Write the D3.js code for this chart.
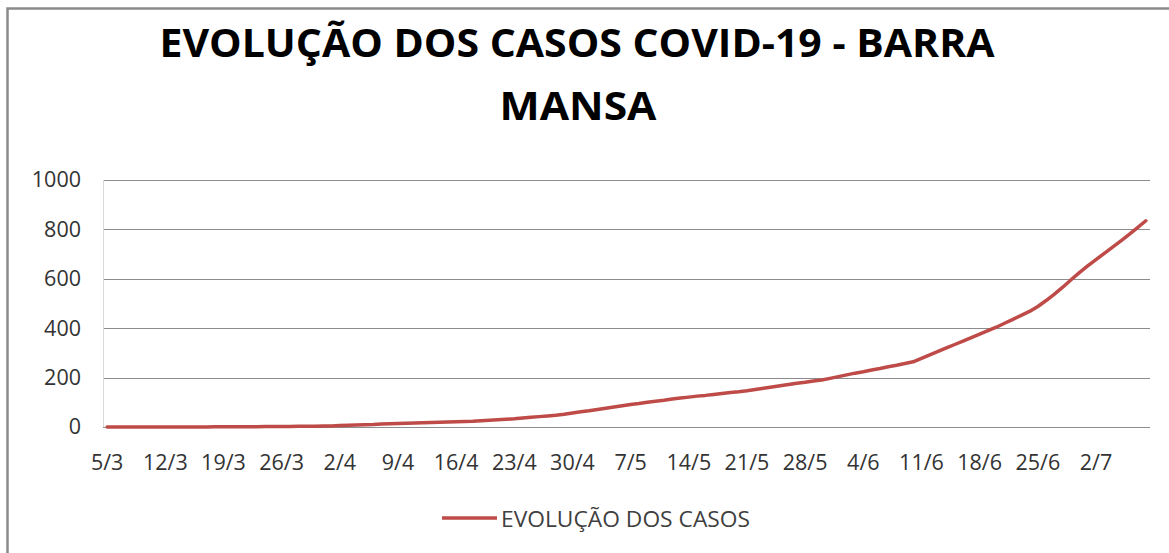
<!DOCTYPE html>
<html>
<head>
<meta charset="utf-8">
<script src="https://cdn.jsdelivr.net/npm/d3@7"></script>
<style>
  body { margin: 0; background: #fff; }
  svg { display: block; }
</style>
</head>
<body>
<div id="chart"></div>
<script>
// Data: cumulative cases per day, from 5/3 to 8/7
const startDate = new Date(2020, 2, 5);
const marchCases = [0, 0, 0, 0, 0, 0, 0, 0, 0, 0, 0, 0, 0, 1, 1, 1, 1, 1, 1, 2, 2, 2, 2, 3, 3, 3, 4];
const aprilCases = [4, 6, 7, 8, 9, 10, 12, 13, 14, 15, 16, 17, 18, 19, 20, 21, 22, 23, 25, 27,
  29, 31, 33, 36, 39, 42, 45, 48, 52, 57];
const mayCases = [62, 66, 71, 76, 81, 86, 91, 95, 100, 104, 108, 113, 117, 121, 125, 128, 132, 136, 140, 143,
  147, 152, 157, 162, 167, 172, 177, 181, 186, 190, 197];
const juneCases = [204, 211, 218, 224, 231, 237, 244, 250, 257, 264, 278, 292, 306, 320, 334, 348, 362, 376, 390, 404,
  420, 436, 452, 468, 488, 512, 538, 566, 596, 625];
const julyCases = [652, 678, 703, 728, 754, 780, 807, 835];

const xTickLabels = ["5/3", "12/3", "19/3", "26/3", "2/4", "9/4", "16/4", "23/4", "30/4", "7/5", "14/5",
  "21/5", "28/5", "4/6", "11/6", "18/6", "25/6", "2/7"];
const yTicks = [0, 200, 400, 600, 800, 1000];
const titleLines = ["EVOLUÇÃO DOS CASOS COVID-19 - BARRA", "MANSA"];
const seriesName = "EVOLUÇÃO DOS CASOS";

const values = [...marchCases, ...aprilCases, ...mayCases, ...juneCases, ...julyCases];
const fmt = d3.timeFormat("%-d/%-m");
const dates = d3.timeDays(startDate, d3.timeDay.offset(startDate, values.length)).map(fmt);
const data = dates.map((d, i) => ({ date: d, value: values[i] }));

const W = 1169, H = 553;
const plot = { left: 103, right: 1150, top: 180, bottom: 427 };
const lineColor = "#BE4B48";
const font = "'Open Sans', 'DejaVu Sans', sans-serif";

const svg = d3.select("#chart").append("svg")
  .attr("width", W)
  .attr("height", H);

svg.append("rect")
  .attr("width", W).attr("height", H)
  .attr("fill", "#fff");

// chart border (runs off the right/bottom like the screenshot)
svg.append("rect")
  .attr("x", 7.5).attr("y", 8.5)
  .attr("width", W + 20).attr("height", H + 20)
  .attr("fill", "none")
  .attr("stroke", "#8a8a8a")
  .attr("stroke-width", 2.5);

// title
svg.append("text")
  .attr("x", 577).attr("y", 57)
  .attr("text-anchor", "middle")
  .attr("font-family", font).attr("font-weight", 700)
  .attr("font-size", 40)
  .attr("textLength", 835).attr("lengthAdjust", "spacingAndGlyphs")
  .attr("fill", "#000")
  .text(titleLines[0]);
svg.append("text")
  .attr("x", 578).attr("y", 120)
  .attr("text-anchor", "middle")
  .attr("font-family", font).attr("font-weight", 700)
  .attr("font-size", 40)
  .attr("textLength", 157).attr("lengthAdjust", "spacingAndGlyphs")
  .attr("fill", "#000")
  .text(titleLines[1]);

// scales
const x = d3.scaleBand()
  .domain(dates)
  .range([plot.left, plot.right])
  .padding(0);
const xc = d => x(d) + x.bandwidth() / 2;

const y = d3.scaleLinear()
  .domain([0, 1000])
  .range([plot.bottom, plot.top]);

// gridlines
svg.append("g")
  .selectAll("line")
  .data(yTicks)
  .enter().append("line")
  .attr("x1", plot.left).attr("x2", plot.right)
  .attr("y1", d => Math.round(y(d)) + 0.5)
  .attr("y2", d => Math.round(y(d)) + 0.5)
  .attr("stroke", "#8c8c8c")
  .attr("stroke-width", 1);

// faint left axis
svg.append("line")
  .attr("x1", plot.left + 0.5).attr("x2", plot.left + 0.5)
  .attr("y1", plot.top).attr("y2", plot.bottom)
  .attr("stroke", "#d9d9d9");

// y axis labels
const yAxis = svg.append("g")
  .attr("transform", "translate(" + (plot.left - 22) + ",0)")
  .call(d3.axisLeft(y).tickValues(yTicks).tickSize(0).tickPadding(0).tickFormat(d3.format("d")));
yAxis.select(".domain").remove();
yAxis.selectAll("text")
  .attr("font-family", font).attr("font-size", 21.5)
  .attr("fill", "#333");

// x axis labels
const xAxis = svg.append("g")
  .attr("transform", "translate(0," + plot.bottom + ")")
  .call(d3.axisBottom(x).tickValues(xTickLabels).tickSize(0).tickPadding(28));
xAxis.select(".domain").remove();
xAxis.selectAll("text")
  .attr("font-family", font).attr("font-size", 21.5)
  .attr("fill", "#333");

// series line
const line = d3.line()
  .x(d => xc(d.date))
  .y(d => y(d.value));

svg.append("path")
  .datum(data)
  .attr("d", line)
  .attr("fill", "none")
  .attr("stroke", lineColor)
  .attr("stroke-width", 3.5)
  .attr("stroke-linejoin", "round")
  .attr("stroke-linecap", "round");

// legend
const legend = svg.append("g");
legend.append("line")
  .attr("x1", 442).attr("x2", 497)
  .attr("y1", 518).attr("y2", 518)
  .attr("stroke", lineColor)
  .attr("stroke-width", 3.5);
legend.append("text")
  .attr("x", 501).attr("y", 527)
  .attr("font-family", font).attr("font-size", 22.5)
  .attr("textLength", 249).attr("lengthAdjust", "spacingAndGlyphs")
  .attr("fill", "#404040")
  .text(seriesName);
</script>
</body>
</html>
